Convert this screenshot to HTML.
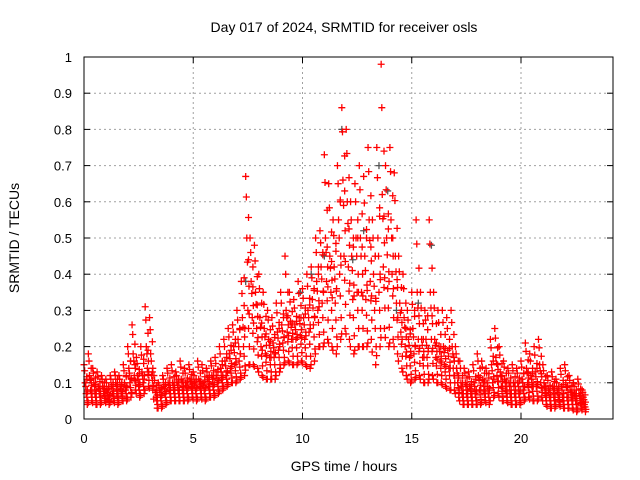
<!DOCTYPE html>
<html><head><meta charset="utf-8"><style>
body{margin:0;background:#fff;}
svg{display:block;font-family:"Liberation Sans",sans-serif;}
</style></head><body>
<svg id="chart" width="640" height="480">
<text x="344" y="32" font-size="14" text-anchor="middle">Day 017 of 2024, SRMTID for receiver osls</text>
<text x="344" y="471" font-size="14" text-anchor="middle">GPS time / hours</text>
<text transform="translate(19,238) rotate(-90)" font-size="14" text-anchor="middle">SRMTID / TECUs</text>
<g id="grid"></g><g id="ticks"></g><g id="pts"></g>
<rect x="84" y="57" width="529" height="362" fill="none" stroke="#000" stroke-width="1"/>
</svg>
<script>
const xTicks=[0,5,10,15,20];
const yTicks=[0,0.1,0.2,0.3,0.4,0.5,0.6,0.7,0.8,0.9,1];
const yTickLabels=["0","0.1","0.2","0.3","0.4","0.5","0.6","0.7","0.8","0.9","1"];
const binStart=0, binStep=0.2;
const hi=[0.15,0.18,0.14,0.13,0.12,0.11,0.12,0.13,0.12,0.15,
0.2,0.26,0.17,0.2,0.31,0.28,0.12,0.1,0.12,0.14,
0.15,0.13,0.16,0.14,0.15,0.13,0.16,0.15,0.14,0.16,
0.17,0.2,0.22,0.25,0.26,0.3,0.38,0.67,0.5,0.48,
0.4,0.35,0.3,0.28,0.32,0.35,0.45,0.35,0.33,0.38,
0.36,0.4,0.42,0.5,0.52,0.73,0.65,0.55,0.7,0.86,
0.8,0.6,0.65,0.7,0.67,0.75,0.55,0.75,0.98,0.7,
0.75,0.68,0.45,0.4,0.3,0.35,0.55,0.35,0.3,0.55,
0.35,0.3,0.3,0.28,0.3,0.2,0.16,0.14,0.13,0.15,
0.18,0.16,0.14,0.22,0.25,0.2,0.16,0.14,0.15,0.14,
0.16,0.21,0.18,0.2,0.22,0.15,0.12,0.13,0.11,0.14,
0.15,0.12,0.1,0.11,0.08];
const mid1=[0.1,0.12,0.1,0.09,0.09,0.08,0.09,0.1,0.09,0.1,
0.14,0.18,0.12,0.13,0.2,0.18,0.08,0.08,0.09,0.1,
0.1,0.1,0.11,0.1,0.11,0.1,0.11,0.1,0.11,0.12,
0.12,0.14,0.16,0.18,0.2,0.22,0.28,0.5,0.38,0.35,
0.28,0.25,0.22,0.21,0.24,0.26,0.3,0.27,0.26,0.28,
0.28,0.3,0.33,0.38,0.42,0.5,0.45,0.42,0.55,0.66,
0.6,0.45,0.5,0.5,0.45,0.55,0.4,0.5,0.62,0.5,
0.55,0.45,0.32,0.28,0.22,0.25,0.35,0.22,0.22,0.35,
0.22,0.2,0.2,0.19,0.2,0.14,0.1,0.1,0.09,0.1,
0.12,0.11,0.1,0.15,0.17,0.13,0.11,0.1,0.1,0.1,
0.11,0.14,0.12,0.13,0.15,0.1,0.08,0.09,0.08,0.09,
0.1,0.08,0.07,0.07,0.06];
const mid2=[0.07,0.08,0.07,0.07,0.07,0.06,0.07,0.07,0.07,0.08,
0.1,0.12,0.09,0.1,0.14,0.12,0.06,0.06,0.07,0.08,
0.08,0.08,0.08,0.08,0.09,0.08,0.09,0.08,0.09,0.09,
0.1,0.11,0.12,0.14,0.15,0.16,0.2,0.3,0.28,0.25,
0.2,0.18,0.17,0.17,0.19,0.21,0.24,0.22,0.22,0.23,
0.22,0.24,0.26,0.3,0.32,0.38,0.35,0.32,0.4,0.45,
0.42,0.33,0.35,0.35,0.33,0.38,0.3,0.35,0.42,0.36,
0.4,0.32,0.24,0.2,0.17,0.18,0.22,0.17,0.17,0.22,
0.17,0.16,0.15,0.14,0.14,0.1,0.07,0.07,0.07,0.07,
0.08,0.08,0.07,0.1,0.12,0.09,0.08,0.07,0.07,0.07,
0.08,0.1,0.09,0.09,0.1,0.07,0.06,0.06,0.06,0.06,
0.06,0.06,0.05,0.05,0.04];
const lo=[0.04,0.05,0.04,0.04,0.05,0.04,0.05,0.04,0.05,0.05,
0.06,0.08,0.06,0.07,0.09,0.08,0.03,0.03,0.04,0.05,
0.05,0.05,0.05,0.05,0.06,0.05,0.06,0.05,0.06,0.06,
0.07,0.08,0.09,0.1,0.1,0.11,0.12,0.15,0.15,0.14,
0.12,0.11,0.11,0.11,0.13,0.15,0.16,0.15,0.15,0.16,
0.15,0.14,0.16,0.2,0.2,0.22,0.2,0.18,0.22,0.25,
0.22,0.18,0.2,0.2,0.2,0.22,0.15,0.2,0.25,0.2,
0.22,0.18,0.14,0.12,0.1,0.11,0.12,0.1,0.1,0.12,
0.1,0.1,0.09,0.08,0.08,0.06,0.04,0.04,0.04,0.04,
0.04,0.05,0.04,0.06,0.07,0.05,0.05,0.04,0.04,0.04,
0.05,0.06,0.05,0.05,0.06,0.04,0.03,0.03,0.04,0.03,
0.03,0.03,0.02,0.03,0.02];
const grayT=[7.4,9.9,10.4,11.0,11.8,12.3,12.8,13.5,13.9,14.3,15.3,15.9,22.4];
const grayV=[0.38,0.35,0.4,0.45,0.8,0.44,0.52,0.7,0.63,0.3,0.32,0.48,0.1];
const series=[hi,mid1,mid2,lo];
const X=t=>84+t*21.85, Y=v=>419-v*362;
const NS='http://www.w3.org/2000/svg';
const g=document.getElementById('grid'),tk=document.getElementById('ticks'),pts=document.getElementById('pts');
function mk(tag,attrs,parent){const e=document.createElementNS(NS,tag);for(const k in attrs)e.setAttribute(k,attrs[k]);parent.appendChild(e);return e;}
xTicks.forEach(t=>{
 if(t>0){const l=mk('line',{x1:X(t),x2:X(t),y1:57,y2:419,stroke:'#a0a0a0','stroke-dasharray':'2,3'},g);
 
 }
 mk('line',{x1:X(t),x2:X(t),y1:419,y2:413,stroke:'#000'},tk);
 mk('line',{x1:X(t),x2:X(t),y1:57,y2:63,stroke:'#000'},tk);
 const tx=mk('text',{x:X(t),y:443,'font-size':13,'text-anchor':'middle'},tk);tx.textContent=t;
 
 
});
yTicks.forEach((v,i)=>{
 if(v>0&&v<1){const l=mk('line',{x1:84,x2:613,y1:Y(v),y2:Y(v),stroke:'#a0a0a0','stroke-dasharray':'2,3'},g);
 
 }
 mk('line',{x1:84,x2:90,y1:Y(v),y2:Y(v),stroke:'#000'},tk);
 mk('line',{x1:607,x2:613,y1:Y(v),y2:Y(v),stroke:'#000'},tk);
 const tx=mk('text',{x:72,y:Y(v)+5,'font-size':13,'text-anchor':'end'},tk);tx.textContent=yTickLabels[i];
 
 
});
function plus(t,v,color){
 const x=X(t),y=Y(v);
 const p=mk('path',{d:`M${x-3.5},${y}H${x+3.5}M${x},${y-3.5}V${y+3.5}`,stroke:color,'stroke-width':1.3,fill:'none'},pts);
 
 
}
grayT.forEach((t,i)=>plus(t,grayV[i],'#555'));
const n=hi.length;
series.forEach((s,k)=>s.forEach((v,i)=>{
 const t=binStart+i*binStep;
 plus(t+k*0.05,v,'#ff0000');
 // fill between this series and the next lower one
 if(k<3){
  const w=series[k+1][i];
  plus(t+0.03+k*0.05,(2*v+w)/3,'#ff0000');
  plus(t+0.13+k*0.02,(v+2*w)/3,'#ff0000');
 }
 // halfway to next bin
 if(i<n-1&&k>0){plus(t+0.1+k*0.03,(v+s[i+1])/2,'#ff0000');}
}));
</script>
</body></html>
